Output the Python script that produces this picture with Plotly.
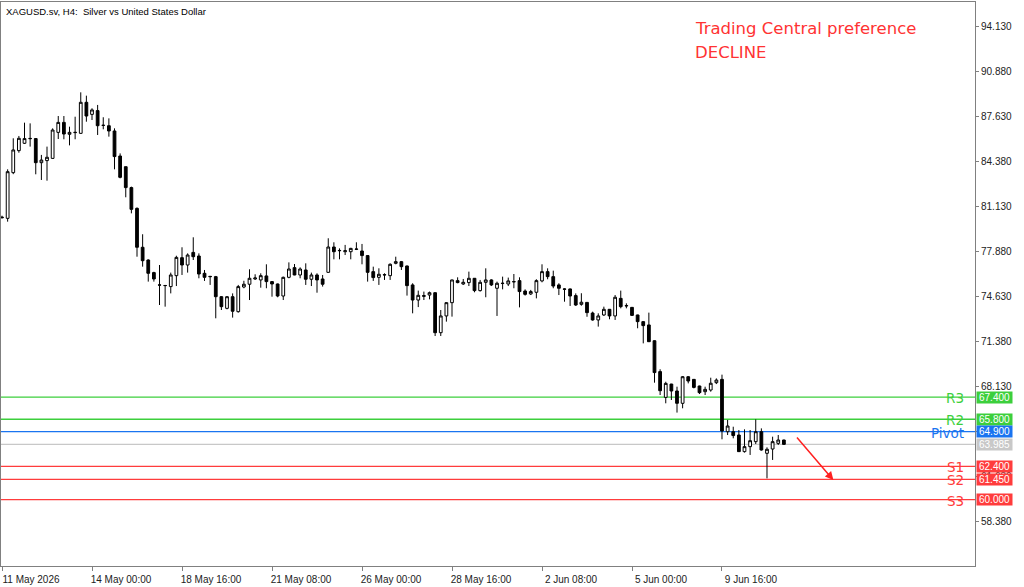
import datetime as dt
import plotly.graph_objects as go

# ---------------- data ----------------
opens = [80.40, 80.31, 83.61, 85.20, 85.73, 86.06, 86.07, 84.33, 84.48, 84.64,
         86.52, 87.24, 86.38, 86.50, 86.45, 88.69, 87.82, 88.09, 87.02, 87.00,
         86.62, 84.81, 84.04, 82.53, 81.03, 78.22, 77.30, 76.39, 75.50, 75.45,
         75.38, 76.17, 77.47, 76.94, 77.85, 77.59, 76.34, 76.12, 76.10, 74.65,
         73.81, 74.65, 73.57, 75.35, 75.55, 75.93, 75.86, 76.15, 75.74, 75.57,
         74.70, 76.05, 76.75, 76.22, 76.58, 75.91, 76.22, 75.93, 76.41, 78.24,
         77.97, 77.90, 77.90, 78.07, 77.95, 77.62, 76.46, 76.05, 76.22, 76.17,
         77.06, 77.18, 76.87, 75.50, 74.41, 74.67, 74.77, 74.94, 72.05, 73.26,
         74.22, 75.81, 75.57, 75.67, 75.98, 75.09, 75.69, 75.86, 75.26, 75.60,
         75.57, 75.72, 75.81, 75.06, 74.85, 74.97, 75.79, 76.46, 76.10, 75.50,
         75.21, 75.21, 74.73, 74.10, 74.24, 73.47, 72.97, 73.33, 73.74, 73.26,
         74.53, 74.01, 73.88, 73.33, 72.85, 72.61, 71.47, 69.24, 67.38, 68.34,
         67.84, 66.95, 68.87, 68.68, 68.20, 67.79, 67.91, 68.44, 68.68, 64.90,
         64.90, 64.66, 63.46, 63.82, 64.18, 64.90, 63.34, 63.65, 64.06, 64.30]
highs = [80.50, 83.85, 86.09, 86.26, 87.22, 87.17, 86.10, 84.89, 85.49, 86.81,
         87.70, 87.70, 86.93, 87.65, 89.41, 89.17, 88.26, 88.50, 87.61, 87.53,
         86.81, 85.00, 84.04, 82.60, 81.10, 79.16, 77.35, 76.45, 76.94, 75.50,
         76.39, 77.61, 78.22, 77.78, 78.94, 77.78, 76.58, 76.15, 76.15, 74.70,
         74.70, 74.89, 75.50, 75.80, 76.63, 76.27, 76.34, 76.99, 75.78, 75.60,
         76.10, 77.13, 77.01, 76.77, 77.06, 76.39, 76.34, 76.22, 78.87, 78.58,
         78.14, 78.39, 78.18, 78.58, 78.46, 77.65, 76.82, 76.70, 76.34, 77.06,
         77.54, 77.23, 76.90, 75.62, 75.09, 75.02, 75.02, 74.97, 73.69, 74.25,
         75.88, 76.05, 75.93, 76.46, 76.00, 75.86, 76.70, 75.91, 75.74, 76.10,
         76.03, 76.29, 76.05, 75.18, 75.14, 75.91, 76.99, 76.70, 76.53, 75.62,
         75.26, 75.24, 74.89, 74.90, 74.26, 73.57, 73.45, 73.93, 73.76, 74.77,
         75.09, 74.17, 73.90, 73.35, 72.88, 73.50, 71.50, 69.41, 68.51, 68.36,
         68.15, 68.92, 68.92, 68.70, 68.22, 68.15, 68.80, 68.75, 69.02, 65.75,
         65.26, 65.02, 65.07, 65.02, 65.79, 65.14, 63.77, 64.54, 64.66, 64.32]
lows = [80.30, 80.07, 83.50, 85.05, 85.68, 85.49, 83.49, 83.08, 83.03, 84.62,
        86.04, 86.02, 85.58, 86.02, 86.42, 87.29, 87.41, 86.33, 86.74, 86.21,
        83.85, 83.20, 81.83, 80.67, 77.54, 76.82, 75.74, 75.74, 74.05, 73.93,
        74.89, 75.42, 76.22, 76.39, 77.30, 75.98, 75.79, 75.50, 73.09, 73.69,
        73.74, 73.14, 73.50, 75.26, 74.41, 75.86, 75.30, 75.26, 74.65, 74.61,
        74.41, 75.98, 76.20, 75.98, 75.50, 75.42, 74.94, 75.38, 76.38, 77.35,
        77.35, 77.66, 77.35, 78.02, 76.99, 75.74, 75.79, 75.50, 75.86, 75.86,
        76.99, 76.58, 74.73, 73.45, 73.90, 74.41, 74.46, 71.81, 71.81, 72.85,
        73.21, 75.62, 75.50, 75.42, 74.97, 75.02, 74.61, 75.42, 73.26, 75.18,
        75.42, 75.26, 73.88, 74.73, 74.77, 74.53, 75.69, 75.91, 75.26, 74.77,
        74.29, 73.98, 73.98, 74.00, 73.20, 72.92, 72.49, 73.26, 73.02, 72.97,
        73.81, 73.81, 73.26, 72.37, 71.28, 71.38, 68.44, 67.55, 66.95, 67.19,
        66.28, 66.59, 68.39, 68.03, 67.62, 67.55, 67.79, 68.34, 64.35, 64.66,
        64.42, 63.44, 63.39, 63.22, 64.01, 63.53, 61.53, 62.86, 63.94, 63.94]
closes = [80.36, 83.68, 85.25, 86.09, 86.07, 86.08, 84.33, 84.52, 84.72, 86.69,
          87.24, 86.40, 86.52, 86.52, 88.69, 87.70, 88.14, 87.00, 87.03, 86.62,
          84.77, 83.27, 82.53, 80.96, 78.22, 77.25, 76.34, 75.93, 75.49, 75.46,
          76.22, 77.49, 76.94, 77.66, 77.54, 76.29, 76.05, 76.10, 74.65, 73.93,
          74.65, 73.60, 75.38, 75.55, 75.98, 76.00, 76.17, 75.74, 75.57, 74.70,
          76.05, 76.65, 76.22, 76.65, 75.91, 76.22, 75.86, 75.55, 78.24, 77.90,
          77.99, 77.97, 78.14, 78.09, 77.62, 76.41, 76.03, 76.27, 76.24, 76.99,
          77.18, 76.82, 75.45, 74.41, 74.75, 74.73, 74.94, 72.05, 73.26, 74.22,
          75.86, 75.67, 75.69, 75.98, 75.09, 75.69, 75.86, 75.50, 75.62, 75.62,
          75.79, 75.74, 75.02, 74.82, 75.02, 75.81, 76.46, 76.10, 75.42, 75.26,
          75.19, 74.70, 74.05, 74.25, 73.50, 72.97, 73.26, 73.74, 73.26, 74.61,
          73.93, 73.99, 73.30, 72.85, 72.56, 71.40, 69.17, 67.86, 68.39, 67.84,
          66.95, 68.87, 68.56, 68.10, 67.72, 67.96, 68.40, 68.63, 64.95, 65.31,
          64.62, 63.46, 63.82, 64.25, 64.90, 63.58, 63.63, 64.18, 64.30, 63.985]

start_time = dt.datetime(2026, 5, 11, 8, 0)

tick_times = ["2026-05-11 08:00", "2026-05-14 00:00", "2026-05-18 16:00",
              "2026-05-21 08:00", "2026-05-26 00:00", "2026-05-28 16:00",
              "2026-06-02 08:00", "2026-06-05 00:00", "2026-06-09 16:00"]
tick_labels = ["11 May 2026", "14 May 00:00", "18 May 16:00", "21 May 08:00",
               "26 May 00:00", "28 May 16:00", "2 Jun 08:00", "5 Jun 00:00",
               "9 Jun 16:00"]

price_ticks = [58.38, 61.63, 64.88, 68.13, 71.38, 74.63, 77.88, 81.13, 84.38,
               87.63, 90.88, 94.13]

level_names = ["R3", "R2", "Pivot", "S1", "S2", "S3"]
level_values = [67.40, 65.80, 64.90, 62.40, 61.45, 60.00]
level_colors = ["#3ccf3c", "#3ccf3c", "#1a74f0", "#ff3c3c", "#ff3c3c", "#ff3c3c"]
current_price = 63.985

preference_lines = ["Trading Central preference", "DECLINE"]
chart_title = "XAGUSD.sv, H4:  Silver vs United States Dollar"

# 4-hour bar timestamps (weekdays only)
times = []
t = start_time
while len(times) < len(opens):
    if t.weekday() < 5:
        times.append(t.strftime("%Y-%m-%d %H:%M"))
    t += dt.timedelta(hours=4)

fig = go.Figure()
fig.add_trace(go.Candlestick(
    x=times, open=opens, high=highs, low=lows, close=closes,
    increasing=dict(line=dict(color="black", width=1), fillcolor="white"),
    decreasing=dict(line=dict(color="black", width=1), fillcolor="black"),
    whiskerwidth=0, showlegend=False, hoverinfo="skip",
))

shapes = []
for v, c in zip(level_values, level_colors):
    shapes.append(dict(type="line", xref="paper", x0=0, x1=1, yref="y", y0=v, y1=v,
                       line=dict(color=c, width=1.3), layer="below"))
shapes.append(dict(type="line", xref="paper", x0=0, x1=1, yref="y",
                   y0=current_price, y1=current_price,
                   line=dict(color="#c8c8c8", width=1.2), layer="below"))

annotations = []
for name, v, c in zip(level_names, level_values, level_colors):
    annotations.append(dict(xref="paper", x=1, xanchor="right", xshift=-9,
                            yref="y", y=v, yanchor="middle", yshift=-1,
                            text=name, showarrow=False,
                            font=dict(family="DejaVu Sans", size=13.5, color=c)))
    annotations.append(dict(xref="paper", x=1, xanchor="left", xshift=1,
                            yref="y", y=v, yanchor="middle",
                            text=f"{v:.3f}", showarrow=False, bgcolor=c,
                            width=35, height=11, borderpad=0,
                            font=dict(family="Liberation Sans", size=10, color="white")))
annotations.append(dict(xref="paper", x=1, xanchor="left", xshift=1,
                        yref="y", y=current_price, yanchor="middle",
                        text=f"{current_price:.3f}", showarrow=False, bgcolor="#c8c8c8",
                        width=35, height=11, borderpad=0,
                        font=dict(family="Liberation Sans", size=10, color="white")))
# title
annotations.append(dict(xref="paper", x=0, xanchor="left", xshift=3,
                        yref="paper", y=1, yanchor="top", yshift=-2,
                        text=chart_title, showarrow=False,
                        font=dict(family="Liberation Sans", size=9.5, color="black")))
# preference text
for k, line in enumerate(preference_lines):
    annotations.append(dict(xref="paper", x=0, xanchor="left", xshift=692,
                            yref="paper", y=1, yanchor="middle", yshift=-26 - 24 * k,
                            text=line, align="left", showarrow=False,
                            font=dict(family="DejaVu Sans", size=16.5, color="#ff3333")))
# forecast arrow
annotations.append(dict(x=147.8, y=61.41, ax=141.1, ay=64.59,
                        xref="x", yref="y", axref="x", ayref="y",
                        text="", showarrow=True, arrowhead=2, arrowsize=1.1,
                        arrowwidth=1.5, arrowcolor="#ff2020"))

fig.update_layout(
    width=1024, height=587,
    margin=dict(l=1, r=49, t=2, b=21),
    paper_bgcolor="white", plot_bgcolor="white",
    shapes=shapes, annotations=annotations,
    showlegend=False,
    xaxis=dict(type="category", range=[-0.18, 172.98],
               rangeslider=dict(visible=False),
               tickmode="array", tickvals=tick_times, ticktext=tick_labels,
               ticks="outside", ticklen=4, tickcolor="#808080",
               showgrid=False, zeroline=False,
               showline=True, linecolor="#808080", linewidth=1, mirror=True,
               ticklabelshift=29, ticklabelstandoff=0,
               tickfont=dict(family="Liberation Sans", size=10, color="#222222")),
    yaxis=dict(side="right", range=[55.20, 95.935],
               tickmode="array", tickvals=price_ticks,
               ticktext=[f"{v:.3f}" for v in price_ticks],
               ticks="outside", ticklen=3, tickcolor="#808080",
               showgrid=False, zeroline=False,
               showline=True, linecolor="#808080", linewidth=1, mirror=True,
               tickfont=dict(family="Liberation Sans", size=10, color="#222222")),
)

fig.write_html("out.html")
